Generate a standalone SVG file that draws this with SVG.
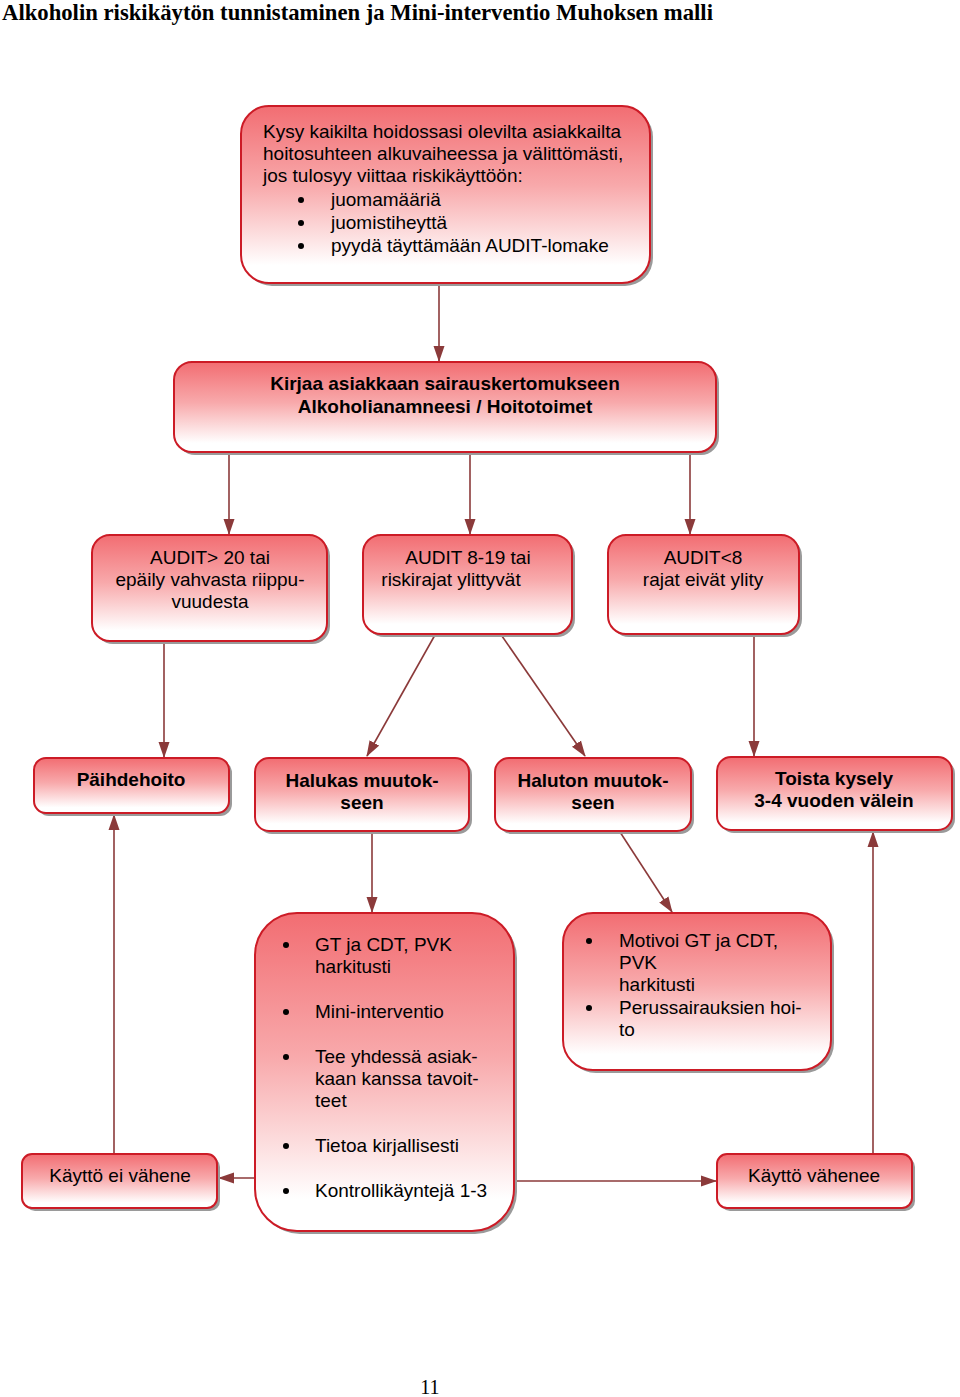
<svg xmlns="http://www.w3.org/2000/svg" width="960" height="1397" viewBox="0 0 960 1397">
<defs>
<linearGradient id="g" x1="0" y1="0" x2="0" y2="1">
<stop offset="0" stop-color="#f26d72"/>
<stop offset="0.45" stop-color="#f8a9ab"/>
<stop offset="0.9" stop-color="#ffffff"/>
</linearGradient>
<marker id="ah" viewBox="0 0 16 12" refX="15" refY="6" markerWidth="16" markerHeight="12" markerUnits="userSpaceOnUse" orient="auto">
<path d="M0,0.5 L16,6 L0,11.5 Z" fill="#8b3a3a"/>
</marker>
</defs>
<style>
.box{fill:url(#g);stroke:#cc1b26;stroke-width:2}
.sh{fill:#9a9a9a}
.t{font-family:"Liberation Sans",Arial,sans-serif;font-size:19px;fill:#000}
.b{font-weight:bold}
.c{text-anchor:middle}
.ln{stroke:#8b3a3a;stroke-width:1.6;fill:none;marker-end:url(#ah)}
</style>
<rect width="960" height="1397" fill="#fff"/>
<text x="2" y="20" font-family="Liberation Serif,serif" font-size="22.7" font-weight="bold">Alkoholin riskikäytön tunnistaminen ja Mini-interventio Muhoksen malli</text>

<g id="connectors">
<line class="ln" x1="439" y1="283" x2="439" y2="361"/>
<line class="ln" x1="229" y1="452" x2="229" y2="534"/>
<line class="ln" x1="470" y1="452" x2="470" y2="534"/>
<line class="ln" x1="690" y1="452" x2="690" y2="534"/>
<line class="ln" x1="164" y1="633" x2="164" y2="757"/>
<line class="ln" x1="440" y1="626" x2="367" y2="756"/>
<line class="ln" x1="495" y1="626" x2="585" y2="756"/>
<line class="ln" x1="754" y1="635" x2="754" y2="756"/>
<line class="ln" x1="372" y1="832" x2="372" y2="912"/>
<line class="ln" x1="620" y1="832" x2="672" y2="912"/>
<line class="ln" x1="255" y1="1178" x2="219" y2="1178"/>
<line class="ln" x1="514" y1="1181" x2="716" y2="1181"/>
<line class="ln" x1="114" y1="1154" x2="114" y2="815"/>
<line class="ln" x1="873" y1="1154" x2="873" y2="832"/>
</g>

<g id="n1">
<rect class="sh" x="244" y="109" width="409" height="177" rx="28"/>
<rect class="box" x="241" y="106" width="409" height="177" rx="28"/>
<text class="t" x="263" y="138">Kysy kaikilta hoidossasi olevilta asiakkailta</text>
<text class="t" x="263" y="160">hoitosuhteen alkuvaiheessa ja välittömästi,</text>
<text class="t" x="263" y="182">jos tulosyy viittaa riskikäyttöön:</text>
<circle cx="301" cy="200" r="3"/><text class="t" x="331" y="206">juomamääriä</text>
<circle cx="301" cy="223" r="3"/><text class="t" x="331" y="229">juomistiheyttä</text>
<circle cx="301" cy="246" r="3"/><text class="t" x="331" y="252">pyydä täyttämään AUDIT-lomake</text>
</g>

<g id="n2">
<rect class="sh" x="177" y="365" width="542" height="90" rx="18"/>
<rect class="box" x="174" y="362" width="542" height="90" rx="18"/>
<text class="t b c" x="445" y="390">Kirjaa asiakkaan sairauskertomukseen</text>
<text class="t b c" x="445" y="413">Alkoholianamneesi / Hoitotoimet</text>
</g>

<g id="n3">
<rect class="sh" x="95" y="538" width="235" height="106" rx="18"/>
<rect class="box" x="92" y="535" width="235" height="106" rx="18"/>
<text class="t c" x="210" y="564">AUDIT&gt; 20 tai</text>
<text class="t c" x="210" y="586">epäily vahvasta riippu-</text>
<text class="t c" x="210" y="608">vuudesta</text>
</g>

<g id="n4">
<rect class="sh" x="366" y="538" width="209" height="99" rx="18"/>
<rect class="box" x="363" y="535" width="209" height="99" rx="18"/>
<text class="t c" x="468" y="564">AUDIT 8-19 tai</text>
<text class="t c" x="451" y="586">riskirajat ylittyvät</text>
</g>

<g id="n5">
<rect class="sh" x="611" y="538" width="191" height="99" rx="18"/>
<rect class="box" x="608" y="535" width="191" height="99" rx="18"/>
<text class="t c" x="703" y="564">AUDIT&lt;8</text>
<text class="t c" x="703" y="586">rajat eivät ylity</text>
</g>

<g id="n6">
<rect class="sh" x="37" y="761" width="195" height="55" rx="12"/>
<rect class="box" x="34" y="758" width="195" height="55" rx="12"/>
<text class="t b c" x="131" y="786">Päihdehoito</text>
</g>

<g id="n7">
<rect class="sh" x="258" y="761" width="214" height="73" rx="14"/>
<rect class="box" x="255" y="758" width="214" height="73" rx="14"/>
<text class="t b c" x="362" y="787">Halukas muutok-</text>
<text class="t b c" x="362" y="809">seen</text>
</g>

<g id="n8">
<rect class="sh" x="498" y="761" width="196" height="73" rx="14"/>
<rect class="box" x="495" y="758" width="196" height="73" rx="14"/>
<text class="t b c" x="593" y="787">Haluton muutok-</text>
<text class="t b c" x="593" y="809">seen</text>
</g>

<g id="n9">
<rect class="sh" x="720" y="760" width="235" height="73" rx="14"/>
<rect class="box" x="717" y="757" width="235" height="73" rx="14"/>
<text class="t b c" x="834" y="785">Toista kysely</text>
<text class="t b c" x="834" y="807">3-4 vuoden välein</text>
</g>

<g id="n10">
<rect class="sh" x="258" y="916" width="259" height="318" rx="42"/>
<rect class="box" x="255" y="913" width="259" height="318" rx="42"/>
<circle cx="286" cy="945" r="3"/><text class="t" x="315" y="951">GT ja CDT, PVK</text>
<text class="t" x="315" y="973">harkitusti</text>
<circle cx="286" cy="1012" r="3"/><text class="t" x="315" y="1018">Mini-interventio</text>
<circle cx="286" cy="1057" r="3"/><text class="t" x="315" y="1063">Tee yhdessä asiak-</text>
<text class="t" x="315" y="1085">kaan kanssa tavoit-</text>
<text class="t" x="315" y="1107">teet</text>
<circle cx="286" cy="1146" r="3"/><text class="t" x="315" y="1152">Tietoa kirjallisesti</text>
<circle cx="286" cy="1191" r="3"/><text class="t" x="315" y="1197">Kontrollikäyntejä 1-3</text>
</g>

<g id="n11">
<rect class="sh" x="566" y="916" width="268" height="157" rx="30"/>
<rect class="box" x="563" y="913" width="268" height="157" rx="30"/>
<circle cx="589" cy="941" r="3"/><text class="t" x="619" y="947">Motivoi GT ja CDT,</text>
<text class="t" x="619" y="969">PVK</text>
<text class="t" x="619" y="991">harkitusti</text>
<circle cx="589" cy="1008" r="3"/><text class="t" x="619" y="1014">Perussairauksien hoi-</text>
<text class="t" x="619" y="1036">to</text>
</g>

<g id="n12">
<rect class="sh" x="25" y="1157" width="195" height="54" rx="10"/>
<rect class="box" x="22" y="1154" width="195" height="54" rx="10"/>
<text class="t c" x="120" y="1182">Käyttö ei vähene</text>
</g>

<g id="n13">
<rect class="sh" x="720" y="1157" width="195" height="54" rx="10"/>
<rect class="box" x="717" y="1154" width="195" height="54" rx="10"/>
<text class="t c" x="814" y="1182">Käyttö vähenee</text>
</g>

<text x="430" y="1394" font-family="Liberation Serif,serif" font-size="20" text-anchor="middle">11</text>
</svg>
